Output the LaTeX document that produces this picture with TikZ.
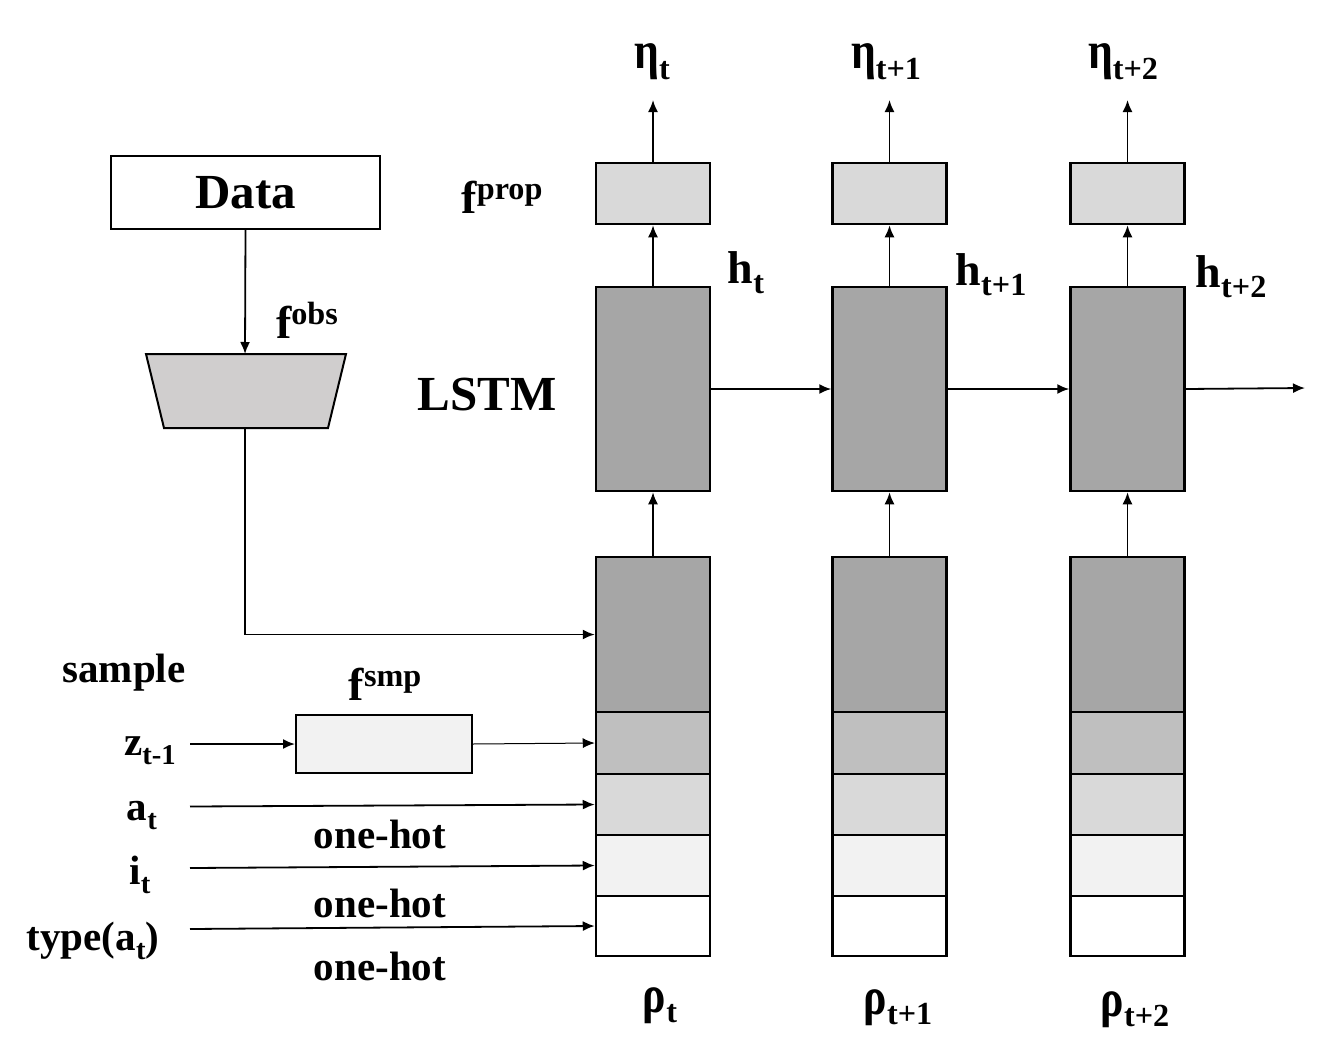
\documentclass[tikz,border=0pt]{standalone}
\usepackage{fontspec}
\setmainfont{Liberation Serif}
\usetikzlibrary{arrows.meta}
\definecolor{dk}{RGB}{166,166,166}
\definecolor{md}{RGB}{191,191,191}
\definecolor{lt}{RGB}{217,217,217}
\definecolor{vl}{RGB}{242,242,242}
\definecolor{trap}{RGB}{208,206,206}
\newcommand\lo[1]{\raisebox{-0.22em}{\scalebox{0.7}{#1}}}
\newcommand\hi[1]{\raisebox{0.3em}{\scalebox{0.7}{#1}}}
\newcommand\tallg[1]{\scalebox{0.95}[1.15]{#1}}
\begin{document}
\begin{tikzpicture}[x=1pt,y=-1pt,
  box/.style={draw, line width=2.5pt, inner sep=0, minimum width=114pt},
  arr/.style={line width=1.8pt, -{Latex[length=12pt,width=10pt]}},
  thinarr/.style={line width=1pt, -{Latex[length=12pt,width=10pt]}},
  lbl/.style={inner sep=0, anchor=base, font=\fontsize{41}{45}\selectfont\bfseries},
  mid/.style={inner sep=0, anchor=base, font=\fontsize{46}{50}\selectfont\bfseries},
  big/.style={inner sep=0, font=\fontsize{49}{52}\selectfont\bfseries}]
\fill[white] (0,0) rectangle (1320,1057);
\useasboundingbox (0,0) rectangle (1320,1057);

\foreach \c/\x in {1/653,2/889.5,3/1127.5}{
  \node[box, fill=lt, minimum height=61pt] (p\c) at (\x,193.5) {};
  \node[box, fill=dk, minimum height=204pt] (l\c) at (\x,389) {};
  \node[box, fill=dk, minimum height=155pt] (sa\c) at (\x,634.5) {};
  \node[box, fill=md, minimum height=62pt] (sb\c) at (\x,743) {};
  \node[box, fill=lt, minimum height=61pt] (sc\c) at (\x,804.5) {};
  \node[box, fill=vl, minimum height=61pt] (sd\c) at (\x,865.5) {};
  \node[box, fill=white, minimum height=60pt] (se\c) at (\x,926) {};
  \coordinate (top\c) at (\x,100);
  \draw[arr] (p\c.north) -- (top\c);
  \draw[arr] (l\c.north) -- (p\c.south);
  \draw[arr] (sa\c.north) -- (l\c.south);
}
\coordinate (out) at (1305,388);
\draw[arr] (l1.east) -- (l2.west);
\draw[arr] (l2.east) -- (l3.west);
\draw[arr] (l3.east) -- (out);

% Data and f^obs
\node[draw, line width=2pt, minimum width=269pt, minimum height=73pt, inner sep=0, big] (data) at (245.5,192.5) {Data};
\draw[line width=2pt, fill=trap] (146,354) -- (346,354) -- (328,428) -- (164,428) -- cycle;
\coordinate (obsT) at (245,354);
\coordinate (obsB) at (245,428);
\draw[arr] (data.south) -- (obsT);
\draw[arr] (obsB) |- (sa1.west);

% f^smp and inputs
\node[draw, line width=2pt, fill=vl, minimum width=176pt, minimum height=58pt, inner sep=0] (smp) at (384,744) {};
\coordinate (zin) at (190,744);
\coordinate (ain) at (190,806.5);
\coordinate (iin) at (190,868);
\coordinate (tin) at (190,929);
\draw[arr] (zin) -- (smp.west);
\draw[thinarr] (smp.east) -- (sb1.west);
\draw[arr] (ain) -- (sc1.west);
\draw[arr] (iin) -- (sd1.west);
\draw[arr] (tin) -- (se1.west);

% labels
\node[big, anchor=base] (lstm) at (487,410) {LSTM};
\node[mid] (fprop) at (502,213) {f\hi{prop}};
\node[mid] (fobs) at (307,338) {f\hi{obs}};
\node[mid] (fsmpl) at (385,700) {f\hi{smp}};
\node[lbl] (sample) at (124,682) {sample};
\node[lbl] (zl) at (150,755) {z\lo{t-1}};
\node[lbl] (al) at (142,820) {a\lo{t}};
\node[lbl] (il) at (140,884) {i\lo{t}};
\node[lbl] (tl) at (93,950) {type(a\lo{t})};
\node[lbl] (oh1) at (380,848) {one-hot};
\node[lbl] (oh2) at (380,917) {one-hot};
\node[lbl] (oh3) at (380,980) {one-hot};
\node[mid] (eta1) at (652,69) {\tallg{η}\lo{t}};
\node[mid] (eta2) at (886,69) {\tallg{η}\lo{t+1}};
\node[mid] (eta3) at (1123,69) {\tallg{η}\lo{t+2}};
\node[mid] (h1) at (746,283) {h\lo{t}};
\node[mid] (h2) at (991,285) {h\lo{t+1}};
\node[mid] (h3) at (1231,287) {h\lo{t+2}};
\node[mid] (r1) at (660,1012) {\tallg{ρ}\lo{t}};
\node[mid] (r2) at (898,1014) {\tallg{ρ}\lo{t+1}};
\node[mid] (r3) at (1135,1016) {\tallg{ρ}\lo{t+2}};
\end{tikzpicture}
\end{document}
